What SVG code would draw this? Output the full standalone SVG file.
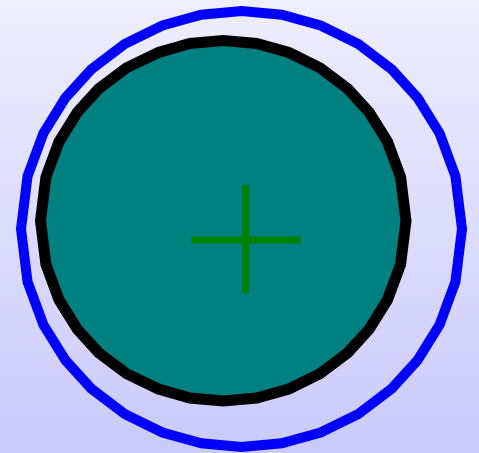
<svg xmlns="http://www.w3.org/2000/svg" width="479" height="453" viewBox="0 0 479 453">
  <defs>
    <linearGradient id="bg" x1="0" y1="0" x2="0" y2="1">
      <stop offset="0" stop-color="#eeeefd"/>
      <stop offset="1" stop-color="#cacafb"/>
    </linearGradient>
    <style>
      .outer { fill: none; stroke: #0000ff; stroke-width: 10; stroke-linejoin: miter; }
      .body { fill: #008080; stroke: #000000; stroke-width: 11; stroke-linejoin: miter; }
      .cross { stroke: #008000; stroke-width: 7; fill: none; }
    </style>
  </defs>
  <rect x="0" y="0" width="479" height="453" fill="url(#bg)"/>
  <g id="outer-ring">
    <polygon class="outer" points="21,229 27.55,281.74 43.32,324.56 65.4,360.2 91.12,388.43 124.65,413.87 162.48,432.52 201.32,443.35 241.5,447 281.68,443.35 320.52,432.52 358.35,413.87 391.88,388.43 417.6,360.2 439.68,324.56 455.45,281.74 462,229 455.45,176.26 439.68,133.44 417.6,97.8 391.88,69.57 358.35,44.13 320.52,25.48 281.68,14.65 241.5,11 201.32,14.65 162.48,25.48 124.65,44.13 91.12,69.57 65.4,97.8 43.32,133.44 27.55,176.26"/>
  </g>
  <g id="body">
    <polygon class="body" points="40.5,220.75 45.93,264.36 59,299.77 77.3,329.23 98.61,352.58 126.41,373.61 158.51,389.03 189.95,397.98 223.25,401 256.55,397.98 288.74,389.03 320.09,373.61 347.89,352.58 369.2,329.23 387.5,299.77 400.57,264.36 406,220.75 400.57,177.14 387.5,141.73 369.2,112.27 347.89,88.92 320.09,67.89 288.74,52.47 256.55,43.52 223.25,40.5 189.95,43.52 158.51,52.47 126.41,67.89 98.61,88.92 77.3,112.27 59,141.73 45.93,177.14"/>
  </g>
  <g id="center-mark">
    <line class="cross" x1="245.5" y1="185" x2="245.5" y2="293"/>
    <line class="cross" x1="191.7" y1="240" x2="301" y2="240"/>
  </g>
</svg>
